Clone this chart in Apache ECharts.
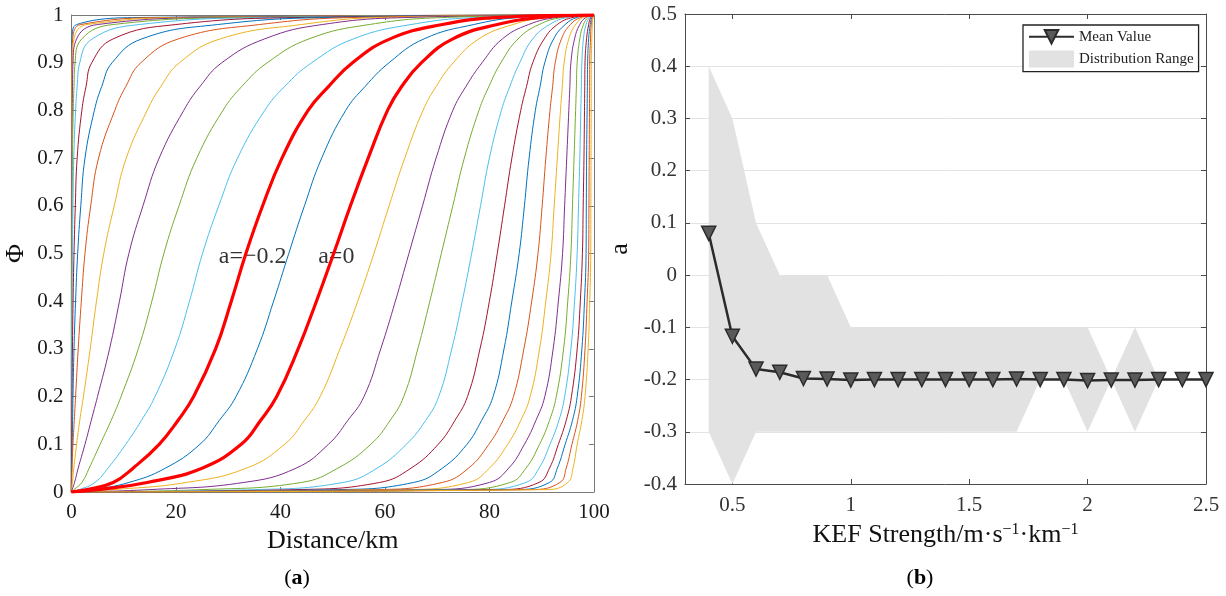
<!DOCTYPE html>
<html><head><meta charset="utf-8">
<script src="https://cdn.jsdelivr.net/npm/echarts@6/dist/echarts.min.js"></script>
<style>html,body{margin:0;padding:0;background:#fff}#c{width:1226px;height:596px}</style>
</head><body><div id="c"></div>
<script>
// ---------- Panel (a) data: x (km) at which each curve reaches the Phi levels ----------
const phiLevels = [0, 0.005, 0.02, 0.05, 0.1, 0.15, 0.2, 0.3, 0.4, 0.5, 0.6, 0.7, 0.8, 0.85, 0.9, 0.95, 0.98, 0.995, 1];
const aValues = [-1.5,-1.4,-1.3,-1.2,-1.1,-1.0,-0.9,-0.8,-0.7,-0.6,-0.5,-0.4,-0.3,-0.2,-0.1,0,
                 0.1,0.2,0.3,0.4,0.5,0.6,0.7,0.8,0.9,1.0,1.1,1.2,1.3,1.4,1.5];
const xAtLevels = [
  [0, 0, 0, 0, 0, 0, 0, 0, 0.002, 0.005, 0.007, 0.01, 0.02, 0.025, 0.03, 0.12, 1.0, 15, 100],            // -1.5
  [0, 0, 0, 0, 0, 0, 0, 0.005, 0.007, 0.01, 0.015, 0.02, 0.04, 0.05, 0.07, 0.25, 1.8, 20, 100],          // -1.4
  [0, 0, 0, 0, 0, 0.003, 0.005, 0.01, 0.015, 0.02, 0.03, 0.05, 0.08, 0.11, 0.15, 0.5, 3, 25, 100],       // -1.3
  [0, 0, 0, 0, 0.005, 0.008, 0.01, 0.015, 0.025, 0.04, 0.06, 0.1, 0.15, 0.21, 0.3, 1, 5, 30, 100],       // -1.2
  [0, 0, 0, 0.005, 0.01, 0.015, 0.02, 0.03, 0.05, 0.08, 0.13, 0.2, 0.35, 0.5, 0.7, 2, 8, 35, 100],       // -1.1
  [0, 0, 0.005, 0.01, 0.02, 0.035, 0.05, 0.08, 0.13, 0.2, 0.3, 0.45, 0.8, 1.1, 1.6, 4, 13, 40, 100],     // -1.0
  [0, 0, 0.01, 0.03, 0.06, 0.09, 0.12, 0.2, 0.32, 0.5, 0.75, 1.1, 2.0, 2.8, 3.9, 8, 20, 45, 100],        // -0.9
  [0, 0.005, 0.02, 0.05, 0.15, 0.23, 0.3, 0.5, 0.8, 1.2, 1.8, 2.6, 4.4, 5.8, 7.8, 13.5, 28, 50, 100],    // -0.8
  [0, 0.01, 0.05, 0.12, 0.3, 0.55, 0.8, 1.3, 1.9, 2.6, 3.7, 5.2, 8.3, 10.4, 13.3, 20.5, 36, 55, 100],    // -0.7
  [0, 0.05, 0.2, 0.45, 1.0, 1.6, 2.3, 3.6, 4.8, 6.2, 8.2, 10.5, 14.5, 17.1, 20.7, 28.5, 44, 60, 100],    // -0.6
  [0, 0.15, 0.6, 1.3, 2.6, 3.8, 5, 7.3, 9.2, 11, 13.7, 16.8, 21.5, 24.6, 28.8, 37, 48, 65, 100],         // -0.5
  [0, 0.5, 2, 3.4, 5.5, 7.6, 9.5, 12.8, 15.4, 17.7, 20.6, 24, 29, 32.6, 37.5, 45.5, 57, 72, 100],        // -0.4
  [0, 1.5, 4.5, 7, 10.4, 13.4, 16, 19.8, 22.6, 25.1, 28.2, 31.8, 37, 40.8, 46, 54, 65, 78, 100],         // -0.3
  [0, 3, 8, 11.8, 16.8, 20.4, 23.4, 27.6, 30.6, 33.4, 36.6, 40.3, 45.3, 49.2, 53.8, 61, 71, 82, 100],    // -0.2
  [0, 4, 11, 18, 24.6, 28.3, 31.5, 35.6, 38.7, 41.6, 44.6, 47.9, 52.5, 56.2, 60.8, 67.5, 77, 86, 100],   // -0.1
  [0, 5, 14.5, 25, 32.5, 36.2, 39.3, 43.4, 46.9, 50.2, 53.4, 56.8, 60.5, 63.2, 67, 73, 81.5, 90, 100],   // 0
  [0, 8, 22, 33.5, 40.8, 44.6, 47.6, 51.4, 54.8, 57.9, 60.8, 63.8, 67.3, 69.8, 73.1, 78, 84.5, 91, 100], // 0.1
  [0, 15, 33, 43, 49.2, 52.9, 56, 59.2, 62, 64.6, 67.2, 69.8, 73, 75.5, 78.6, 82.5, 87.5, 93, 100],      // 0.2
  [0, 25, 44, 51, 57.3, 61, 63.6, 66.3, 68.6, 70.8, 73, 75.2, 78, 79.9, 82.2, 85.5, 89.5, 94, 100],      // 0.3
  [0, 35, 52, 58.5, 64.1, 67.8, 70.3, 72.8, 74.8, 76.6, 78.3, 80, 82.3, 83.9, 85.8, 88.3, 91.5, 95, 100],// 0.4
  [0, 43, 59, 65, 70.2, 73.4, 75.8, 78.2, 80, 81.5, 82.9, 84.3, 86, 87.1, 88.3, 90.5, 93, 96, 100],      // 0.5
  [0, 51, 65.5, 71, 75.7, 78.5, 80.7, 82.8, 84.3, 85.7, 86.7, 87.6, 88.8, 89.7, 90.6, 92.3, 94.5, 96.8, 100], // 0.6
  [0, 58, 71, 76, 79.9, 82.6, 84.6, 86.6, 88.1, 89.3, 90.1, 90.8, 91.6, 92.1, 92.6, 93.8, 95.5, 97.5, 100],   // 0.7
  [0, 64, 76, 80, 83.5, 86, 87.8, 89.6, 90.8, 91.8, 92.4, 93.0, 93.6, 93.95, 94.3, 95.2, 96.5, 98, 100],      // 0.8
  [0, 69, 80, 83.7, 86.7, 88.9, 90.6, 92.2, 93.2, 94.0, 94.4, 94.8, 95.2, 95.4, 95.6, 96.3, 97.3, 98.5, 100], // 0.9
  [0, 74, 84, 87, 89.6, 91.5, 92.8, 94.2, 95.0, 95.6, 95.9, 96.2, 96.5, 96.65, 96.8, 97.3, 98, 98.9, 100],    // 1.0
  [0, 78, 87, 89.5, 91.6, 93.3, 94.4, 95.6, 96.3, 96.8, 97.05, 97.3, 97.5, 97.6, 97.7, 98, 98.5, 99.2, 100],  // 1.1
  [0, 82, 89.5, 91.5, 93.2, 94.7, 95.7, 96.8, 97.4, 97.8, 97.95, 98.1, 98.2, 98.25, 98.3, 98.6, 99, 99.4, 100], // 1.2
  [0, 85, 91.5, 93, 94.5, 95.9, 96.8, 97.7, 98.2, 98.5, 98.55, 98.6, 98.7, 98.75, 98.8, 99, 99.3, 99.6, 100],  // 1.3
  [0, 88, 93.5, 94.7, 95.8, 96.9, 97.6, 98.3, 98.7, 99.0, 99.05, 99.1, 99.15, 99.18, 99.2, 99.35, 99.5, 99.75, 100], // 1.4
  [0, 91, 95, 96, 96.8, 97.7, 98.3, 98.9, 99.2, 99.4, 99.42, 99.45, 99.48, 99.49, 99.5, 99.6, 99.7, 99.85, 100]     // 1.5
];
const highlightA = [-0.2, 0];
const curveLabels = [{text: 'a=−0.2', x: 34.7, phi: 0.493}, {text: 'a=0', x: 50.7, phi: 0.493}];

// ---------- Panel (b) data ----------
const kefStrength = [0.4,0.5,0.6,0.7,0.8,0.9,1.0,1.1,1.2,1.3,1.4,1.5,1.6,1.7,1.8,1.9,2.0,2.1,2.2,2.3,2.4,2.5];
const meanValue   = [0.08,-0.117,-0.18,-0.186,-0.198,-0.199,-0.201,-0.2,-0.2,-0.2,-0.2,-0.2,-0.2,-0.199,-0.2,-0.2,-0.202,-0.201,-0.201,-0.2,-0.2,-0.2];
const rangeUpper  = [0.4,0.3,0.1,0,0,0,-0.1,-0.1,-0.1,-0.1,-0.1,-0.1,-0.1,-0.1,-0.1,-0.1,-0.1,-0.2,-0.1,-0.2,-0.2,-0.2];
const rangeLower  = [-0.3,-0.4,-0.3,-0.3,-0.3,-0.3,-0.3,-0.3,-0.3,-0.3,-0.3,-0.3,-0.3,-0.3,-0.2,-0.2,-0.3,-0.2,-0.3,-0.2,-0.2,-0.2];
const xTicksB = [0.5, 1, 1.5, 2, 2.5];

const matlabColors = ['#0072BD','#D95319','#EDB120','#7E2F8E','#77AC30','#4DBEEE','#A2142F'];
const FONT = '"Liberation Serif","Times New Roman",serif';

const chart = echarts.init(document.getElementById('c'));

const series = [];
aValues.forEach((a, k) => {
  const isHi = highlightA.some(h => Math.abs(h - a) < 1e-9);
  const ci = ((Math.round(a * 10) + 1) % 7 + 7) % 7;
  series.push({
    type: 'line', xAxisIndex: 0, yAxisIndex: 0, silent: true,
    data: phiLevels.map((p, i) => [xAtLevels[k][i], p]),
    showSymbol: false, smooth: 0.45,
    lineStyle: isHi ? {color: '#ff0000', width: 3.2} : {color: matlabColors[ci], width: 1},
    z: isHi ? 5 : 2
  });
});
series.push({
  type: 'scatter', xAxisIndex: 0, yAxisIndex: 0, silent: true, symbolSize: 0, z: 3,
  data: curveLabels.map(c => ({value: [c.x, c.phi], label: {formatter: c.text}})),
  label: {show: true, position: 'inside', fontFamily: FONT, fontSize: 24, color: '#000'}
});

series.push({
  name: 'Distribution Range', type: 'custom', xAxisIndex: 2, yAxisIndex: 2, silent: true, z: 1, clip: true,
  data: kefStrength.map((x, i) => [x, rangeLower[i], rangeUpper[i]]),
  encode: {x: 0, y: [1, 2]},
  itemStyle: {color: '#e2e2e2'},
  renderItem: function (params, api) {
    if (params.dataIndex !== 0) return null;
    const pts = [];
    for (let i = 0; i < kefStrength.length; i++) pts.push(api.coord([kefStrength[i], rangeUpper[i]]));
    for (let i = kefStrength.length - 1; i >= 0; i--) pts.push(api.coord([kefStrength[i], rangeLower[i]]));
    return {type: 'polygon', shape: {points: pts}, style: {fill: '#e2e2e2', stroke: null}};
  }
});
series.push({
  name: 'Mean Value', type: 'line', xAxisIndex: 2, yAxisIndex: 2, z: 5,
  data: kefStrength.map((x, i) => [x, meanValue[i]]),
  symbol: 'triangle', symbolRotate: 180, symbolSize: 14, showSymbol: true,
  lineStyle: {color: '#2b2b2b', width: 2.5},
  itemStyle: {color: '#5a5a5a', borderColor: '#2b2b2b', borderWidth: 1.5}
});

const boxA = '#7a7a7a', boxB = '#4a4a4a';
const lbl = {fontFamily: FONT, fontSize: 21, color: '#1a1a1a'};
const nameStyle = {fontFamily: FONT, fontSize: 26, color: '#111'};

chart.setOption({
  animation: false,
  backgroundColor: '#fff',
  grid: [
    {left: 71.4, top: 15, width: 522.5, height: 477},
    {left: 685, top: 14, width: 521, height: 470}
  ],
  xAxis: [
    {gridIndex: 0, type: 'value', min: 0, max: 100, interval: 20,
     axisLine: {onZero: false, lineStyle: {color: boxA}}, axisTick: {inside: true, length: 5, lineStyle: {color: boxA}},
     axisLabel: Object.assign({margin: 10}, lbl), splitLine: {show: false},
     name: 'Distance/km', nameLocation: 'middle', nameGap: 33, nameTextStyle: nameStyle},
    {gridIndex: 0, type: 'value', min: 0, max: 100, interval: 20, position: 'top',
     axisLine: {onZero: false, lineStyle: {color: boxA}}, axisTick: {inside: true, length: 5, lineStyle: {color: boxA}},
     axisLabel: {show: false}, splitLine: {show: false}},
    {gridIndex: 1, type: 'value', min: 0.3, max: 2.5,
     axisLine: {onZero: false, lineStyle: {color: boxB}},
     axisTick: {inside: true, length: 5, customValues: xTicksB, lineStyle: {color: boxB}},
     axisLabel: {margin: 11, customValues: xTicksB, color: '#333', fontFamily: FONT, fontSize: 21},
     splitLine: {show: false},
     name: 'KEF Strength/m·s{s|−1}·km{s|−1}', nameLocation: 'middle', nameGap: 38,
     nameTextStyle: Object.assign({rich: {s: {fontFamily: FONT, fontSize: 16, verticalAlign: 'top', color: '#111'}}}, nameStyle)},
    {gridIndex: 1, type: 'value', min: 0.3, max: 2.5, position: 'top',
     axisLine: {onZero: false, lineStyle: {color: boxB}},
     axisTick: {inside: true, length: 5, customValues: xTicksB, lineStyle: {color: boxB}},
     axisLabel: {show: false}, splitLine: {show: false}}
  ],
  yAxis: [
    {gridIndex: 0, type: 'value', min: 0, max: 1, interval: 0.1,
     axisLine: {onZero: false, lineStyle: {color: boxA}}, axisTick: {inside: true, length: 5, lineStyle: {color: boxA}},
     axisLabel: Object.assign({margin: 8}, lbl), splitLine: {show: false},
     name: 'Φ', nameLocation: 'middle', nameGap: 42, nameRotate: 90, nameTextStyle: nameStyle},
    {gridIndex: 0, type: 'value', min: 0, max: 1, interval: 0.1, position: 'right',
     axisLine: {onZero: false, lineStyle: {color: boxA}}, axisTick: {inside: true, length: 5, lineStyle: {color: boxA}},
     axisLabel: {show: false}, splitLine: {show: false}},
    {gridIndex: 1, type: 'value', min: -0.4, max: 0.5, interval: 0.1,
     axisLine: {onZero: false, lineStyle: {color: boxB}}, axisTick: {inside: true, length: 5, lineStyle: {color: boxB}},
     axisLabel: {margin: 8, fontFamily: FONT, fontSize: 21, color: '#333'},
     splitLine: {show: true, lineStyle: {color: '#e3e3e3', width: 1}},
     name: 'a', nameLocation: 'middle', nameGap: 52, nameRotate: 90, nameTextStyle: nameStyle},
    {gridIndex: 1, type: 'value', min: -0.4, max: 0.5, interval: 0.1, position: 'right',
     axisLine: {onZero: false, lineStyle: {color: boxB}}, axisTick: {inside: true, length: 5, lineStyle: {color: boxB}},
     axisLabel: {show: false}, splitLine: {show: false}}
  ],
  legend: {
    orient: 'vertical', left: 1023, top: 25, padding: [4, 5, 4, 5], itemGap: 6,
    itemWidth: 45, itemHeight: 17, borderColor: '#222', borderWidth: 1.3, backgroundColor: '#fff',
    textStyle: {fontFamily: FONT, fontSize: 15, color: '#222'},
    data: [{name: 'Mean Value'}, {name: 'Distribution Range', icon: 'rect', itemStyle: {color: '#e2e2e2'}}]
  },
  graphic: [
    {type: 'text', x: 297, y: 578, style: {text: '{n|(}{b|a}{n|)}', align: 'center', verticalAlign: 'middle',
      rich: {n: {fontFamily: FONT, fontSize: 22, fill: '#000'}, b: {fontFamily: FONT, fontSize: 22, fontWeight: 'bold', fill: '#000'}}}},
    {type: 'text', x: 920, y: 578, style: {text: '{n|(}{b|b}{n|)}', align: 'center', verticalAlign: 'middle',
      rich: {n: {fontFamily: FONT, fontSize: 22, fill: '#000'}, b: {fontFamily: FONT, fontSize: 22, fontWeight: 'bold', fill: '#000'}}}}
  ],
  series: series
});
</script></body></html>
